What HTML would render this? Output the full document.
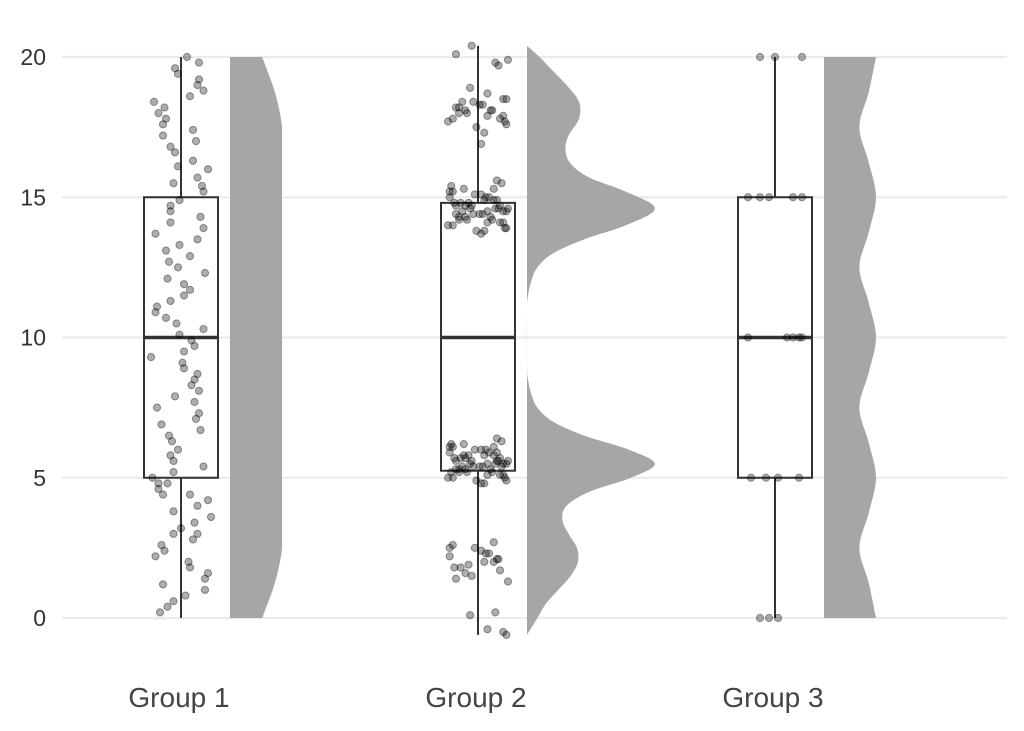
<!DOCTYPE html>
<html><head><meta charset="utf-8"><style>
html,body{margin:0;padding:0;background:#fff;}
svg{display:block;font-family:"Liberation Sans Narrow","Liberation Sans",sans-serif;}
</style></head><body>
<svg id="chart" width="1024" height="731" viewBox="0 0 1024 731" xmlns="http://www.w3.org/2000/svg">
<g id="grid"></g>
<g id="yaxis"></g>
<g id="clouds"></g>
<g id="boxes"></g>
<g id="points"></g>
<g id="xaxis"></g>
</svg>
<script>
const categories = ["Group 1", "Group 2", "Group 3"];
const yTicks = [0, 5, 10, 15, 20];
const boxLow = [0, -0.6, 0];
const boxQ1 = [5, 5.25, 5];
const boxMed = [10, 10, 10];
const boxQ3 = [15, 14.8, 15];
const boxHigh = [20, 20.4, 20];

const dens1Y = [0,0.5,1,1.5,2,2.5,3,10,17,17.5,18,18.5,19,19.5,20];
const dens1V = [0.031,0.036,0.041,0.045,0.048,0.05,0.05,0.05,0.05,0.05,0.048,0.045,0.041,0.036,0.031];
const dens2Y = [-0.6,0,0.5,1,1.5,2,2.5,3,3.5,4,4.5,5,5.5,6,6.5,7,7.5,8,8.5,9,11,11.5,12,12.5,13,13.5,14,14.6,15.2,15.7,16.2,16.7,17.2,17.8,18.4,19,19.5,20,20.4];
const dens2V = [0,0.01,0.018,0.03,0.042,0.049,0.048,0.04,0.034,0.038,0.06,0.1,0.123,0.098,0.055,0.025,0.01,0.004,0.001,0,0,0.001,0.004,0.01,0.025,0.055,0.095,0.123,0.095,0.06,0.042,0.037,0.04,0.05,0.05,0.038,0.025,0.012,0];
const dens3Y = [0,1.25,2.5,3.75,5,6.25,7.5,8.75,10,11.25,12.5,13.75,15,16.25,17.5,18.75,20];
const dens3V = [0.05,0.043,0.034,0.043,0.05,0.043,0.034,0.043,0.05,0.043,0.034,0.043,0.05,0.043,0.034,0.043,0.05];

const pts1V = [20.0,19.8,19.6,19.4,19.2,19.0,18.8,18.6,18.4,18.2,18.0,17.8,17.6,17.4,17.2,17.0,16.8,16.6,16.3,16.1,16.0,15.7,15.5,15.4,15.2,14.9,14.7,14.5,14.3,14.1,13.9,13.7,13.5,13.3,13.1,12.9,12.7,12.5,12.3,12.1,11.9,11.7,11.5,11.3,11.1,10.9,10.7,10.5,10.3,10.1,9.9,9.7,9.5,9.3,9.1,8.9,8.7,8.5,8.3,8.1,7.9,7.7,7.5,7.3,7.1,6.9,6.7,6.5,6.3,6.0,5.8,5.6,5.4,5.2,5.0,4.8,4.8,4.6,4.4,4.4,4.2,4.0,3.8,3.6,3.4,3.2,3.0,3.0,2.8,2.6,2.4,2.2,2.0,1.8,1.6,1.4,1.2,1.0,0.8,0.6,0.4,0.2];
const pts1J = [0.2,0.6,-0.2,-0.1,0.6,0.55,0.75,0.3,-0.9,-0.55,-0.75,-0.5,-0.6,0.4,-0.6,0.5,-0.35,-0.2,0.4,-0.1,0.9,0.55,-0.25,0.7,0.75,-0.05,-0.35,-0.35,0.65,-0.35,0.75,-0.85,0.55,-0.05,-0.5,0.3,-0.4,-0.1,0.8,-0.45,0.1,0.3,0.1,-0.35,-0.8,-0.85,-0.5,-0.15,0.75,-0.05,0.35,0.45,0.1,-1.0,0.05,0.1,0.55,0.45,0.35,0.6,-0.2,0.45,-0.8,0.6,0.5,-0.65,0.65,-0.4,-0.3,-0.1,-0.35,-0.25,0.75,-0.25,-0.95,-0.45,-0.75,-0.75,0.3,-0.6,0.9,0.55,-0.25,1.0,0.45,0.0,0.55,-0.25,0.4,-0.65,-0.55,-0.85,0.25,0.3,0.9,0.8,-0.6,0.8,0.15,-0.25,-0.45,-0.7];

const pts2V = [20.4,20.1,19.9,19.7,19.8,
18.9,18.7,18.5,18.5,18.4,18.4,18.3,18.3,18.2,18.2,18.1,18.1,18.1,18.0,18.0,17.9,17.9,17.8,17.8,17.7,17.7,17.6,17.5,17.3,16.9,
15.6,15.5,15.4,15.3,15.3,15.2,15.2,15.1,15.1,15.0,15.0,15.0,14.9,14.9,14.9,14.8,14.8,14.8,14.7,14.7,14.7,14.7,14.6,14.6,14.6,14.6,14.5,14.5,14.5,14.5,14.4,14.4,14.4,14.4,14.3,14.3,14.3,14.2,14.2,14.2,14.1,14.1,14.1,14.0,14.0,13.9,13.9,13.8,13.8,13.7,
6.4,6.3,6.2,6.2,6.1,6.1,6.1,6.0,6.0,6.0,5.9,5.9,5.9,5.8,5.8,5.8,5.7,5.7,5.7,5.7,5.6,5.6,5.6,5.6,5.5,5.5,5.5,5.5,5.5,5.4,5.4,5.4,5.4,5.3,5.3,5.3,5.3,5.2,5.2,5.2,5.1,5.1,5.1,5.0,5.0,5.0,4.9,4.9,4.8,4.8,5.6,5.4,5.2,5.8,
2.7,2.6,2.5,2.5,2.4,2.3,2.3,2.2,2.1,2.0,2.0,1.9,1.8,1.8,1.7,1.6,1.5,1.4,1.3,2.1,
0.2,0.1,-0.4,-0.5,-0.6];
const jitterPool = [0.3,-0.6,0.8,-0.2,0.5,-0.9,0.1,0.7,-0.4,0.9,-0.7,0.2,-0.1,0.6,-0.8,0.4,-0.5,0.95,-0.3,0.1,0.75,-0.95,0.45,-0.15,0.65,-0.55,0.25,-0.85,0.85,-0.35,0.05,0.55,-0.75,0.35,-0.45,0.9,-0.6,0.15,-0.25,0.7,-0.9,0.5,-0.05,0.8,-0.7,0.3,-0.4,0.6,-0.8,0.2];

const pts3V = [0,0,0,5,5,5,5,10,10,10,10,10,15,15,15,15,15,20,20,20];
const pts3J = [-0.5,-0.2,0.1,-0.8,-0.3,0.1,0.8,-0.9,0.4,0.6,0.8,0.9,-0.9,-0.5,-0.2,0.6,0.9,-0.5,0.0,0.9];

const NS = "http://www.w3.org/2000/svg";
const centers = [181, 478, 775];
const y = v => 618 - v * 28.05;
const densX = d => d * 1040;
function mk(tag, attrs, parent){ const e=document.createElementNS(NS,tag); for(const k in attrs) e.setAttribute(k,attrs[k]); parent.appendChild(e); return e; }

const grid=document.getElementById('grid'), yax=document.getElementById('yaxis');
yTicks.forEach(t=>{
  const l=mk('line',{x1:62,x2:1007,y1:y(t),y2:y(t),stroke:'#ebebeb','stroke-width':2.2},grid);
  
  
  const tx=mk('text',{x:46,y:y(t)+8,'text-anchor':'end','font-size':23,fill:'#333'},yax);
  tx.textContent=t;
  
  
});

function smoothPath(pts){
  let d='M'+pts[0][0]+','+pts[0][1];
  for(let i=0;i<pts.length-1;i++){
    const p0=pts[Math.max(i-1,0)],p1=pts[i],p2=pts[i+1],p3=pts[Math.min(i+2,pts.length-1)];
    const c1=[p1[0]+(p2[0]-p0[0])/6,p1[1]+(p2[1]-p0[1])/6];
    const c2=[p2[0]-(p3[0]-p1[0])/6,p2[1]-(p3[1]-p1[1])/6];
    d+=' C'+c1[0]+','+c1[1]+' '+c2[0]+','+c2[1]+' '+p2[0]+','+p2[1];
  }
  return d;
}
const clouds=document.getElementById('clouds');
[[dens1Y,dens1V],[dens2Y,dens2V],[dens3Y,dens3V]].forEach((dv,g)=>{
  const x0=centers[g]+49;
  const pts=dv[0].map((v,i)=>[x0+densX(dv[1][i]),y(v)]);
  let d=smoothPath(pts);
  d+=' L'+x0+','+y(dv[0][dv[0].length-1])+' L'+x0+','+y(dv[0][0])+' Z';
  const p=mk('path',{d:d,fill:'#a6a6a6'},clouds);
  
  
});

const boxes=document.getElementById('boxes');
categories.forEach((c,g)=>{
  const cx=centers[g];
  const w1=mk('line',{x1:cx,x2:cx,y1:y(boxLow[g]),y2:y(boxQ1[g]),stroke:'#333','stroke-width':2},boxes);
  
  
  const w2=mk('line',{x1:cx,x2:cx,y1:y(boxQ3[g]),y2:y(boxHigh[g]),stroke:'#333','stroke-width':2},boxes);
  
  
  const r=mk('rect',{x:cx-37,y:y(boxQ3[g]),width:74,height:y(boxQ1[g])-y(boxQ3[g]),fill:'none',stroke:'#333','stroke-width':2},boxes);
  
  
  const m=mk('line',{x1:cx-37,x2:cx+37,y1:y(boxMed[g]),y2:y(boxMed[g]),stroke:'#333','stroke-width':3.5},boxes);
  
  
});

const ptsG=document.getElementById('points');
function dot(cx,v,j,g){
  const c=mk('circle',{cx:cx+j*30,cy:y(v),r:3.6,fill:'rgba(0,0,0,0.32)',stroke:'rgba(0,0,0,0.38)','stroke-width':1},ptsG);
  
  
}
pts1V.forEach((v,i)=>dot(centers[0],v,pts1J[i]!==undefined?pts1J[i]:0,1));
pts2V.forEach((v,i)=>dot(centers[1],v,jitterPool[(i*7+3)%jitterPool.length]*1.05,2));
pts3V.forEach((v,i)=>dot(centers[2],v,pts3J[i],3));

const xax=document.getElementById('xaxis');
categories.forEach((c,g)=>{
  const t=mk('text',{x:centers[g]-2,y:707,'text-anchor':'middle','font-size':28,fill:'#444'},xax);
  t.textContent=c;
  
  
});
</script>
</body></html>
